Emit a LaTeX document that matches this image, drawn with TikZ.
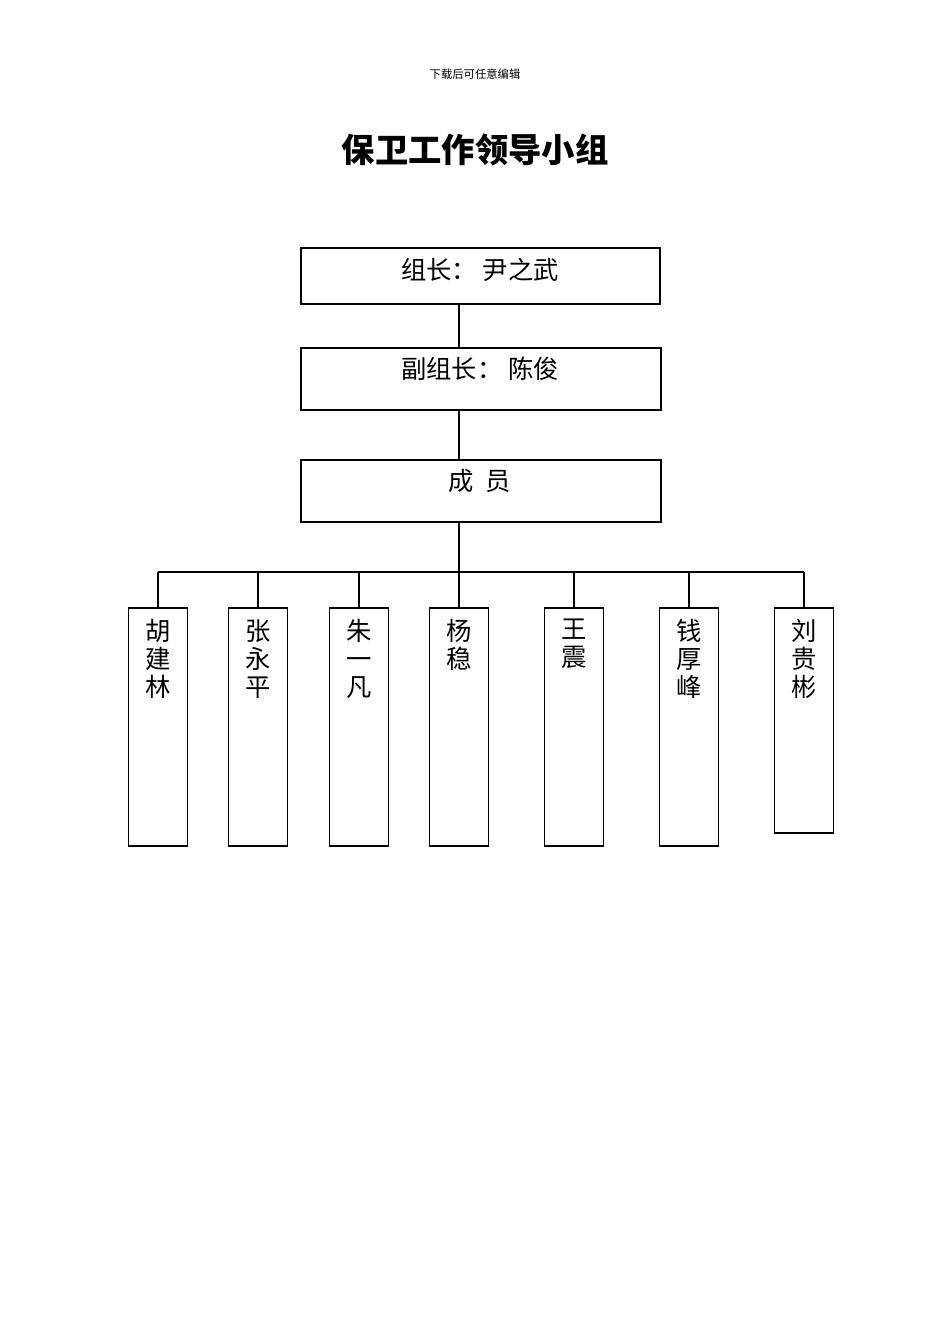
\documentclass[tikz,border=0pt]{standalone}
\usepackage{fontspec}
\setmainfont{Noto Sans CJK SC}
\begin{document}
\begin{tikzpicture}[x=0.75pt,y=-0.75pt,
  box/.style={draw,line width=0.8pt},
  ln/.style={line width=0.8pt},
  big/.style={font=\fontsize{19pt}{21pt}\selectfont},
  vname/.style={font=\fontsize{19pt}{21pt}\selectfont,align=center,anchor=north,inner sep=0pt}]
\useasboundingbox (0,0) rectangle (950,1344);
\node (hdr) at (475,74) {\fontsize{8.5pt}{10pt}\selectfont 下载后可任意编辑};
\node (title) at (475,150) {\fontsize{25pt}{28pt}\selectfont\bfseries 保卫工作领导小组};
\draw[box] (301,248) rectangle (660,304); \node[big] (t1) at (480,270) {组长：\ 尹之武};
\draw[box] (301,348) rectangle (661,410); \node[big] (t2) at (480,369) {副组长：\ 陈俊};
\draw[box] (301,460) rectangle (661,522); \node[big] (t3) at (480,481) {成\ \ 员};
\draw[ln] (459,304) -- (459,348);
\draw[ln] (459,410) -- (459,460);
\draw[ln] (459,522) -- (459,572);
\draw[ln] (158,572) -- (804,572);
\foreach \cx/\bot/\nm in {158/846/胡\\建\\林,258/846/张\\永\\平,359/846/朱\\一\\凡,459/846/杨\\稳,574/846/王\\震,689/846/钱\\厚\\峰,804/833/刘\\贵\\彬}{
  \draw[ln] (\cx,572) -- (\cx,608);
  \draw[box] (\cx-29.5,608) rectangle (\cx+29.5,\bot);
  \node[vname] at (\cx,619) {\nm};
}
\end{tikzpicture}
\end{document}
